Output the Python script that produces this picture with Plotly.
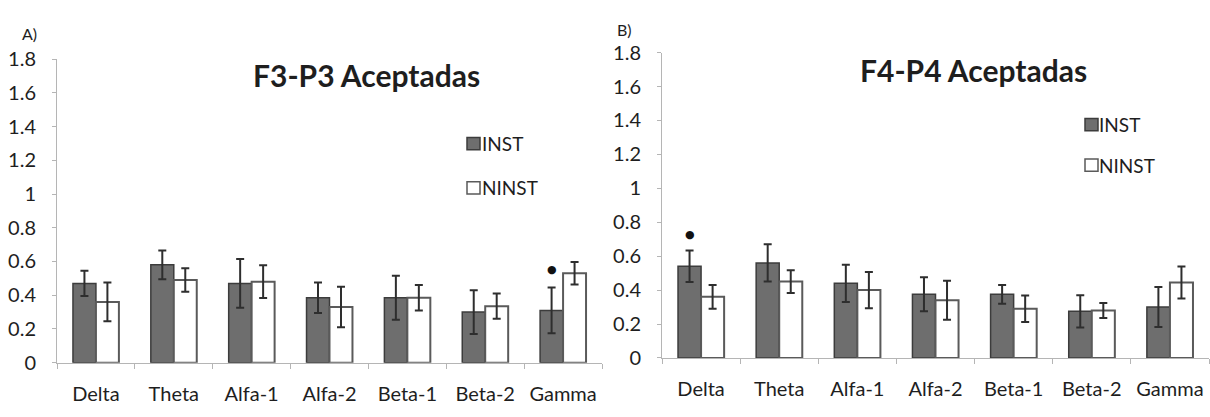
import plotly.graph_objects as go

# Frequency bands on the x axis
bands = ["Delta", "Theta", "Alfa-1", "Alfa-2", "Beta-1", "Beta-2", "Gamma"]

# F3-P3 accepted epochs: means and error half-widths
f3p3_inst = [0.47, 0.58, 0.47, 0.385, 0.385, 0.30, 0.31]
f3p3_inst_err = [0.075, 0.085, 0.145, 0.09, 0.13, 0.13, 0.135]
f3p3_ninst = [0.36, 0.49, 0.48, 0.33, 0.385, 0.335, 0.53]
f3p3_ninst_err = [0.115, 0.07, 0.097, 0.12, 0.075, 0.075, 0.067]

# F4-P4 accepted epochs: means and error half-widths
f4p4_inst = [0.54, 0.56, 0.44, 0.375, 0.375, 0.275, 0.30]
f4p4_inst_err = [0.093, 0.11, 0.11, 0.10, 0.055, 0.095, 0.118]
f4p4_ninst = [0.36, 0.45, 0.40, 0.34, 0.29, 0.28, 0.445]
f4p4_ninst_err = [0.07, 0.067, 0.107, 0.115, 0.078, 0.044, 0.094]

# Significant differences (band, height of the marker)
sig_f3p3 = [("Gamma", 0.555)]
sig_f4p4 = [("Delta", 0.728)]

W, H = 1210, 417
FONT = "Lato"
TXT = "#1e1e1e"
INST_FILL, INST_LINE = "#6e6e6e", "#3c3c3c"
NINST_FILL, NINST_LINE = "#ffffff", "#5a5a5a"
ERR = "#2e2e2e"


def px_x(x):
    return x / W


def px_y(y):
    return 1 - y / H


fig = go.Figure()


def add_panel(inst, inst_err, ninst, ninst_err, xa, ya):
    fig.add_trace(go.Bar(
        x=bands, y=inst, name="INST", xaxis=xa, yaxis=ya, showlegend=False,
        marker=dict(color=INST_FILL, line=dict(color=INST_LINE, width=1.5)),
        error_y=dict(type="data", array=inst_err, color=ERR, thickness=2, width=4),
    ))
    fig.add_trace(go.Bar(
        x=bands, y=ninst, name="NINST", xaxis=xa, yaxis=ya, showlegend=False,
        marker=dict(color=NINST_FILL, line=dict(color=NINST_LINE, width=2)),
        error_y=dict(type="data", array=ninst_err, color=ERR, thickness=2, width=4),
    ))


add_panel(f3p3_inst, f3p3_inst_err, f3p3_ninst, f3p3_ninst_err, "x", "y")
add_panel(f4p4_inst, f4p4_inst_err, f4p4_ninst, f4p4_ninst_err, "x2", "y2")

xaxis_style = dict(
    type="category", showline=True, linecolor="#b5b5b5", linewidth=1,
    ticks="outside", tickson="boundaries", ticklen=5, tickcolor="#b5b5b5",
    tickangle=0, tickfont=dict(family=FONT, size=20, color=TXT),
    ticklabelstandoff=13, showgrid=False, zeroline=False, fixedrange=True,
)
yaxis_style = dict(
    range=[0, 1.8], dtick=0.2, tickformat="~g", showline=True,
    linecolor="#b5b5b5", linewidth=1, ticks="outside", ticklen=4,
    tickcolor="#b5b5b5", tickfont=dict(family=FONT, size=20, color=TXT),
    ticklabelstandoff=12, showgrid=False, zeroline=False, fixedrange=True,
)

annotations = []
shapes = []


def label(text, x, y, size, bold=False, xanchor="center"):
    annotations.append(dict(
        text=f"<b>{text}</b>" if bold else text, x=px_x(x), y=px_y(y),
        xref="paper", yref="paper", xanchor=xanchor, yanchor="middle",
        showarrow=False, borderpad=0,
        font=dict(family=FONT, size=size, color=TXT),
    ))


def legend_box(x0, y0, fill, line, lw, text, tx, ty):
    shapes.append(dict(
        type="rect", xref="paper", yref="paper",
        x0=px_x(x0), x1=px_x(x0 + 13), y0=px_y(y0 + 13), y1=px_y(y0),
        fillcolor=fill, line=dict(color=line, width=lw),
    ))
    label(text, tx, ty, 19, xanchor="left")


# Panel A
label("A)", 29, 22, 16)
label("F3-P3 Aceptadas", 366, 66, 30, bold=True)
legend_box(467, 132, INST_FILL, INST_LINE, 1.5, "INST", 481, 139)
legend_box(467, 179, NINST_FILL, NINST_LINE, 1.5, "NINST", 481, 185)

# Panel B
label("B)", 625, 17, 16)
label("F4-P4 Aceptadas", 973, 61, 30, bold=True)
legend_box(1085, 112, INST_FILL, INST_LINE, 1.5, "INST", 1098, 118)
legend_box(1085, 155, NINST_FILL, NINST_LINE, 1.5, "NINST", 1098, 162)

# Significance markers over the INST bars
for (band, h), xa, ya in [(s, "x", "y") for s in sig_f3p3] + [(s, "x2", "y2") for s in sig_f4p4]:
    annotations.append(dict(
        text="●", x=band, y=h, xref=xa, yref=ya, xshift=-11.5,
        showarrow=False, font=dict(family="DejaVu Sans", size=11, color="#111"),
    ))

fig.update_layout(
    width=W, height=H, margin=dict(l=0, r=0, t=0, b=0),
    paper_bgcolor="white", plot_bgcolor="white",
    barmode="group", bargap=0.41, bargroupgap=0,
    xaxis=dict(domain=[px_x(57), px_x(602)], anchor="y", **xaxis_style),
    yaxis=dict(domain=[px_y(371), px_y(49)], anchor="x", **yaxis_style),
    xaxis2=dict(domain=[px_x(662), px_x(1209)], anchor="y2", **xaxis_style),
    yaxis2=dict(domain=[px_y(366), px_y(42)], anchor="x2", **yaxis_style),
    annotations=annotations, shapes=shapes, showlegend=False,
)

fig.write_html("out.html", config={"displayModeBar": False})
